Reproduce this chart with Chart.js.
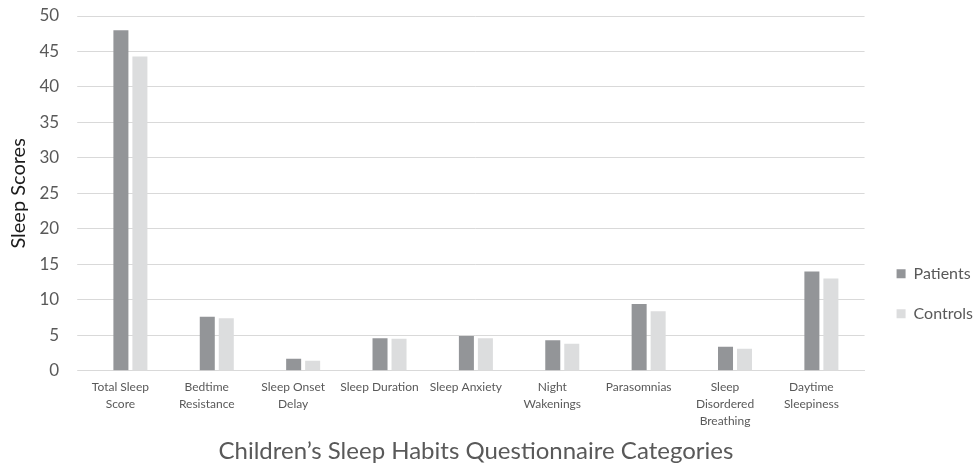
<!DOCTYPE html>
<html>
<head>
<meta charset="utf-8">
<script src="https://cdn.jsdelivr.net/npm/chart.js@4"></script>
<style>
  html, body { margin: 0; padding: 0; background: #fff; }
  #wrap { width: 974px; height: 466px; }
</style>
</head>
<body>
<div id="wrap"><canvas id="sleepChart"></canvas></div>
<script>
// === DATA ===
const categories = [
  ['Total Sleep', 'Score'],
  ['Bedtime', 'Resistance'],
  ['Sleep Onset', 'Delay'],
  'Sleep Duration',
  'Sleep Anxiety',
  ['Night', 'Wakenings'],
  'Parasomnias',
  ['Sleep', 'Disordered', 'Breathing'],
  ['Daytime', 'Sleepiness']
];
const patients = [48.0, 7.6, 1.7, 4.6, 4.9, 4.3, 9.4, 3.4, 14.0];
const controls = [44.3, 7.4, 1.4, 4.5, 4.6, 3.8, 8.4, 3.1, 13.0];
const yTicks = [0, 5, 10, 15, 20, 25, 30, 35, 40, 45, 50];

const FONT = 'Lato, "Open Sans", sans-serif';

// === BAR CHART ===
const ctx = document.getElementById('sleepChart').getContext('2d');
new Chart(ctx, {
  type: 'bar',
  data: {
    labels: categories,
    datasets: [{
      label: 'Patients',
      data: patients,
      backgroundColor: '#939598',
      categoryPercentage: 0.44,
      barPercentage: 0.79
    }, {
      label: 'Controls',
      data: controls,
      backgroundColor: '#dcddde',
      categoryPercentage: 0.44,
      barPercentage: 0.79
    }]
  },
  options: {
    responsive: true,
    maintainAspectRatio: false,
    animation: false,
    layout: { padding: { top: 7, right: -9, left: 5, bottom: 0 } },
    plugins: {
      tooltip: { enabled: false },
      legend: {
        position: 'right',
        align: 'center',
        title: { display: true, text: '', padding: { top: 100, bottom: 0 } },
        labels: {
          boxWidth: 9,
          boxHeight: 9,
          padding: 24,
          color: '#595959',
          font: { family: FONT, size: 16 }
        }
      }
    },
    scales: {
      x: {
        grid: { display: false },
        border: { color: '#d9d9d9' },
        ticks: {
          color: '#595959',
          padding: 0,
          labelOffset: -10,
          maxRotation: 0,
          autoSkip: false,
          font: { family: FONT, size: 12, lineHeight: 1.4 }
        },
        title: {
          display: true,
          text: 'Children’s Sleep Habits Questionnaire Categories',
          color: '#595959',
          font: { family: FONT, size: 24 },
          padding: { top: 8, bottom: 0 }
        }
      },
      y: {
        min: 0,
        max: 50,
        afterBuildTicks: axis => { axis.ticks = yTicks.map(v => ({ value: v })); },
        afterFit: axis => {
          axis.paddingTop = 16;
          axis.paddingBottom = 10;
        },
        grid: { color: '#d9d9d9', tickColor: '#d9d9d9', tickLength: 10 },
        border: { display: false },
        ticks: {
          color: '#595959',
          padding: 18,
          font: { family: FONT, size: 17 }
        },
        title: {
          display: true,
          text: 'Sleep Scores',
          color: '#1a1a1a',
          font: { family: FONT, size: 20 },
          padding: { top: 2, bottom: -9.5 }
        }
      },
      // empty strip between plot and legend
      gap: {
        type: 'linear',
        position: 'right',
        grid: { display: false },
        border: { display: false },
        ticks: { display: false },
        afterFit: axis => {
          axis.width = 8;
          axis.paddingTop = 0;
          axis.paddingBottom = 0;
        }
      }
    }
  }
});
</script>
</body>
</html>
